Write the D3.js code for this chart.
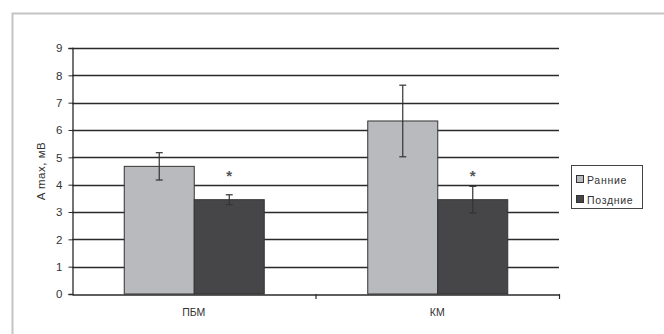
<!DOCTYPE html>
<html><head><meta charset="utf-8">
<script src="https://cdn.jsdelivr.net/npm/d3@7"></script>
<style>
html,body{margin:0;padding:0;background:#fff;}
svg{display:block;}
text{font-family:"Liberation Sans",Arial,sans-serif;}
</style></head>
<body>
<script>
const categories = ["ПБМ", "КМ"];
const seriesNames = ["Ранние", "Поздние"];
const earlyValues = [4.67, 6.33];
const earlyErrors = [0.5, 1.31];
const lateValues = [3.45, 3.45];
const lateErrors = [0.18, 0.49];
const significance = ["*", "*"];
const starLevel = 4.38;
const yTicks = [0,1,2,3,4,5,6,7,8,9];
const yTitle = "A max, мВ";

const W = 664, H = 334;
const svg = d3.select("body").append("svg").attr("width", W).attr("height", H);

// outer frame
svg.append("rect").attr("x", 12.5).attr("y", 13.5).attr("width", 700).attr("height", 400)
  .attr("fill", "none").attr("stroke", "#c4c4c4").attr("stroke-width", 2);

const plot = {left: 72, right: 559, top: 48, bottom: 294};
const y = d3.scaleLinear().domain([0, 9]).range([plot.bottom, plot.top]);
const x = d3.scaleBand().domain(categories).range([plot.left, plot.right]).paddingInner(0).paddingOuter(0);
const xs = d3.scaleBand().domain(seriesNames).range([-70, 70]);
const colors = {"Ранние": "#b9babd", "Поздние": "#464648"};

// gridlines
svg.append("g").selectAll("line").data(yTicks.filter(d => d > 0)).join("line")
  .attr("x1", plot.left).attr("x2", plot.right)
  .attr("y1", d => Math.round(y(d)) + 0.5).attr("y2", d => Math.round(y(d)) + 0.5)
  .attr("stroke", "#2a2a2a").attr("stroke-width", 1.3);

// y axis
const yAxis = d3.axisLeft(y).tickValues(yTicks).tickSize(4).tickPadding(6).tickFormat(d3.format("d"));
const gy = svg.append("g").attr("transform", `translate(${plot.left + 0.5},0)`).call(yAxis);
gy.select(".domain").attr("stroke", "#2a2a2a").attr("stroke-width", 1.3);
gy.selectAll(".tick line").attr("stroke", "#2a2a2a");
gy.selectAll(".tick text").attr("font-size", 11.5).attr("fill", "#333")
  .attr("font-family", '"Liberation Sans",Arial,sans-serif');

// bars
const data = [];
categories.forEach((c, i) => {
  data.push({cat: c, s: "Ранние", v: earlyValues[i], e: earlyErrors[i]});
  data.push({cat: c, s: "Поздние", v: lateValues[i], e: lateErrors[i]});
});
const bx = d => x(d.cat) + x.bandwidth() / 2 + xs(d.s);
svg.append("g").selectAll("rect").data(data).join("rect")
  .attr("x", d => bx(d) + 0.5).attr("y", d => y(d.v))
  .attr("width", xs.bandwidth()).attr("height", d => y(0) - y(d.v))
  .attr("fill", d => colors[d.s]).attr("stroke", "#333").attr("stroke-width", 1);

// error bars
const eg = svg.append("g").attr("stroke", "#333").attr("stroke-width", 1.2);
data.forEach(d => {
  const cx = bx(d) + xs.bandwidth() / 2 + 0.5;
  eg.append("line").attr("x1", cx).attr("x2", cx).attr("y1", y(d.v + d.e)).attr("y2", y(d.v - d.e));
  eg.append("line").attr("x1", cx - 3.5).attr("x2", cx + 3.5).attr("y1", y(d.v + d.e)).attr("y2", y(d.v + d.e));
  eg.append("line").attr("x1", cx - 3.5).attr("x2", cx + 3.5).attr("y1", y(d.v - d.e)).attr("y2", y(d.v - d.e));
});

// significance stars
svg.append("g").selectAll("text").data(categories).join("text")
  .attr("x", (c) => x(c) + x.bandwidth() / 2 + xs("Поздние") + xs.bandwidth() / 2 + 0.5)
  .attr("y", y(starLevel) + 7)
  .attr("text-anchor", "middle").attr("font-size", 15).attr("font-weight", "bold").attr("fill", "#555")
  .text((c, i) => significance[i]);

// x axis
const xAxis = d3.axisBottom(x).tickSize(0).tickPadding(14);
const gx = svg.append("g").attr("transform", `translate(0,${plot.bottom + 0.5})`).call(xAxis);
gx.select(".domain").attr("stroke", "#2a2a2a").attr("stroke-width", 1.3);
gx.selectAll(".tick text").attr("font-size", 10.5).attr("fill", "#333")
  .attr("font-family", '"Liberation Sans",Arial,sans-serif');
// x boundary ticks
const bounds = [plot.left, plot.left + x.bandwidth(), plot.right];
svg.append("g").selectAll("line").data(bounds.slice(1)).join("line")
  .attr("x1", d => d + 0.5).attr("x2", d => d + 0.5)
  .attr("y1", plot.bottom).attr("y2", plot.bottom + 5)
  .attr("stroke", "#2a2a2a").attr("stroke-width", 1.2);

// y title
svg.append("text").attr("transform", `translate(45,${(plot.top + plot.bottom) / 2}) rotate(-90)`)
  .attr("text-anchor", "middle").attr("font-size", 11.5).attr("letter-spacing", 0.5)
  .attr("fill", "#333").text(yTitle);

// legend
const lg = svg.append("g");
lg.append("rect").attr("x", 571.5).attr("y", 165.5).attr("width", 71).attr("height", 43)
  .attr("fill", "#fff").attr("stroke", "#444").attr("stroke-width", 1);
seriesNames.forEach((s, i) => {
  const yy = 180 + i * 20;
  lg.append("rect").attr("x", 576.5).attr("y", yy - 4.5).attr("width", 7).attr("height", 7)
    .attr("fill", colors[s]).attr("stroke", "#333").attr("stroke-width", 1);
  lg.append("text").attr("x", 587).attr("y", yy + 3.5).attr("font-size", 10.5)
    .attr("letter-spacing", 0.7).attr("fill", "#333").text(s);
});
</script>
</body></html>
